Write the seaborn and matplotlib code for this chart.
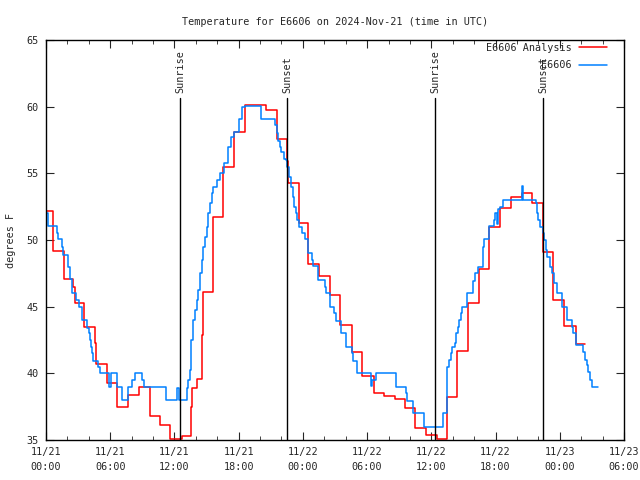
import numpy as np
import pandas as pd
import matplotlib
matplotlib.use("Agg")
import matplotlib.pyplot as plt
import matplotlib.dates as mdates
import seaborn as sns

# hours after 2024-11-21 00:00 UTC
analysis_hours = [0.0, 0.65, 1.7, 2.55, 2.75, 3.58, 4.58, 4.7, 5.67, 6.6, 7.63, 8.69, 9.7,
                  10.65, 11.6, 12.68, 13.55, 13.67, 14.13, 14.6, 14.65, 15.6, 16.57, 17.6,
                  18.6, 19.5, 20.55, 21.55, 22.55, 22.62, 23.6, 24.5, 25.5, 26.5, 27.5,
                  28.55, 29.55, 30.6, 31.6, 32.6, 33.5, 34.5, 35.5, 36.5, 37.5, 38.4,
                  39.45, 40.45, 41.4, 42.4, 43.4, 44.45, 45.4, 46.4, 47.4, 48.4, 49.5, 50.4]
analysis_temp = [52.2, 49.2, 47.1, 46.5, 45.25, 43.5, 42.3, 40.7, 39.25, 37.5, 38.4, 39.0, 36.8,
                 36.1, 35.05, 35.3, 37.5, 38.9, 39.6, 42.9, 46.1, 51.75, 55.45, 58.1,
                 60.1, 60.15, 59.75, 57.55, 55.9, 54.3, 51.25, 48.2, 47.3, 45.9, 43.6,
                 41.6, 39.8, 38.5, 38.3, 38.05, 37.4, 35.9, 35.35, 35.1, 38.2, 41.65,
                 45.25, 47.8, 50.95, 52.4, 53.2, 53.5, 52.75, 49.1, 45.5, 43.55, 42.2, 42.2]

obs_hours = [0.06, 0.21, 1.0, 1.1, 1.53, 1.6, 2.08, 2.21, 2.24, 2.46, 2.8, 3.05, 3.1, 3.33,
             3.39, 3.8, 4.0, 4.1, 4.2, 4.33, 4.36, 4.9, 5.05, 5.85, 6.04, 6.6, 7.07, 7.7,
             8.06, 8.3, 9.0, 9.15, 11.2, 12.2, 12.4, 13.14, 13.3, 13.45, 13.57, 13.76,
             13.92, 14.08, 14.23, 14.39, 14.55, 14.7, 14.86, 15.0, 15.16, 15.3, 15.48,
             15.63, 16.0, 16.3, 16.6, 17.0, 17.3, 17.6, 18.0, 18.3, 18.6, 20.06, 21.4,
             21.55, 21.7, 21.86, 22.0, 22.2, 22.4, 22.55, 22.67, 22.9, 23.05, 23.17, 23.36,
             23.48, 23.64, 23.88, 24.2, 24.51, 24.82, 24.91, 25.44, 26.07, 26.16, 26.53,
             26.94, 27.06, 27.56, 28.0, 28.56, 28.65, 29.09, 30.33, 30.43, 30.64, 30.83,
             32.67, 33.6, 33.75, 34.32, 35.31, 37.06, 37.49, 37.65, 37.81, 37.9, 38.21,
             38.3, 38.52, 38.61, 38.74, 38.84, 39.3, 39.92, 40.08, 40.39, 40.86, 40.92,
             41.42, 41.85, 41.98, 42.1, 42.2, 42.41, 42.72, 44.44, 44.52, 45.78, 45.9,
             46.0, 46.15, 46.4, 46.52, 46.71, 46.84, 47.08, 47.24, 47.46, 47.71, 48.18,
             48.64, 49.11, 49.27, 49.48, 50.2, 50.35, 50.51, 50.66, 50.82, 51.04, 51.54]
obs_temp = [52.05, 51.05, 50.5, 50.05, 49.5, 48.9, 48.0, 47.5, 47.1, 46.0, 45.5, 45.1, 45.0, 44.45,
            44.0, 43.4, 43.0, 42.5, 42.0, 41.5, 40.95, 40.5, 40.0, 39.0, 40.0, 39.0, 38.0, 39.0,
            39.5, 40.0, 39.5, 39.0, 38.0, 38.9, 38.0, 38.9, 39.5, 40.25, 42.5, 44.0,
            44.75, 45.5, 46.25, 47.5, 48.5, 49.5, 50.25, 51.0, 52.0, 52.75, 53.5,
            54.0, 54.5, 55.0, 55.75, 57.0, 57.75, 58.1, 59.05, 60.0, 60.05, 59.05, 58.6,
            58.0, 57.4, 57.0, 56.6, 56.1, 56.0, 55.5, 54.75, 54.0, 53.25, 52.5, 52.0,
            51.5, 51.0, 50.5, 50.05, 49.0, 48.5, 48.05, 47.0, 46.45, 46.0, 45.0,
            44.5, 43.95, 43.0, 42.0, 41.5, 40.95, 40.0, 39.05, 39.5, 39.5, 40.0,
            39.0, 38.5, 37.95, 37.05, 35.95, 37.0, 40.5, 41.0, 41.55, 42.0, 42.25,
            43.0, 43.5, 44.0, 44.5, 45.0, 46.0, 46.9, 47.5, 48.0, 49.5, 50.05,
            51.05, 51.5, 52.0, 51.2, 52.3, 52.5, 53.0, 54.05, 53.0, 52.75, 52.0,
            51.5, 51.0, 50.5, 50.0, 49.25, 48.75, 48.0, 47.5, 46.75, 46.0, 45.0,
            44.0, 43.5, 43.0, 42.1, 41.6, 41.0, 40.6, 40.1, 39.5, 38.95, 38.95]

sun_labels = ["Sunrise", "Sunset", "Sunrise", "Sunset"]
sun_hours = [12.52, 22.51, 36.34, 46.43]

BASE = pd.Timestamp("2024-11-21 00:00")
FONT = "DejaVu Sans Mono"
FS = 7.3

def to_time(hours):
    return BASE + pd.to_timedelta(np.array(hours), unit="h")

df_a = pd.DataFrame({"time": to_time(analysis_hours), "temp": analysis_temp})
df_o = pd.DataFrame({"time": to_time(obs_hours), "temp": obs_temp})

sns.set_style("ticks")
plt.rcParams["font.family"] = [FONT]
plt.rcParams["font.size"] = FS

fig = plt.figure(figsize=(6.4, 4.8), dpi=100)
ax = fig.add_axes([46 / 640, 40 / 480, 578 / 640, 400 / 480])

sns.lineplot(data=df_a, x="time", y="temp", ax=ax, color="#ff0000", lw=1.1,
             drawstyle="steps-post", estimator=None, sort=False, label="E6606 Analysis")
sns.lineplot(data=df_o, x="time", y="temp", ax=ax, color="#0080ff", lw=1.1,
             drawstyle="steps-post", estimator=None, sort=False, label="E6606")

# sunrise / sunset markers
top = 60.65
for lab, h in zip(sun_labels, sun_hours):
    t = BASE + pd.Timedelta(hours=h)
    ax.plot([t, t], [35, top], color="black", lw=1.0)
    ax.text(t, top + 0.4, lab, rotation=90, ha="center", va="bottom", fontsize=FS)

ax.set_xlim(BASE, BASE + pd.Timedelta(hours=54))
ax.set_ylim(35, 65)
ax.set_yticks(range(35, 66, 5))
ax.xaxis.set_major_locator(mdates.HourLocator(byhour=[0, 6, 12, 18]))
ax.xaxis.set_minor_locator(mdates.HourLocator(interval=2))
ax.xaxis.set_major_formatter(mdates.DateFormatter("%m/%d\n%H:%M"))
ax.tick_params(which="both", direction="in", top=True, right=True, labelsize=FS, pad=5)
ax.tick_params(which="major", length=6)
ax.tick_params(which="minor", length=3)
for lab in ax.get_xticklabels():
    lab.set_linespacing(1.6)

for s in ax.spines.values():
    s.set_linewidth(1.0)
    s.set_color("black")

ax.set_xlabel("")
ax.set_ylabel("degrees F", fontsize=FS, labelpad=8)
ax.set_title("Temperature for E6606 on 2024-Nov-21 (time in UTC)", fontsize=FS, pad=11)

ax.legend(loc="upper right", bbox_to_anchor=(1 - 14 / 578, 1.0), frameon=False,
          markerfirst=False, fontsize=FS, handlelength=2.76, borderaxespad=0.0,
          borderpad=0.3, labelspacing=0.7, handletextpad=0.7)

fig.savefig("out.png", dpi=100)
